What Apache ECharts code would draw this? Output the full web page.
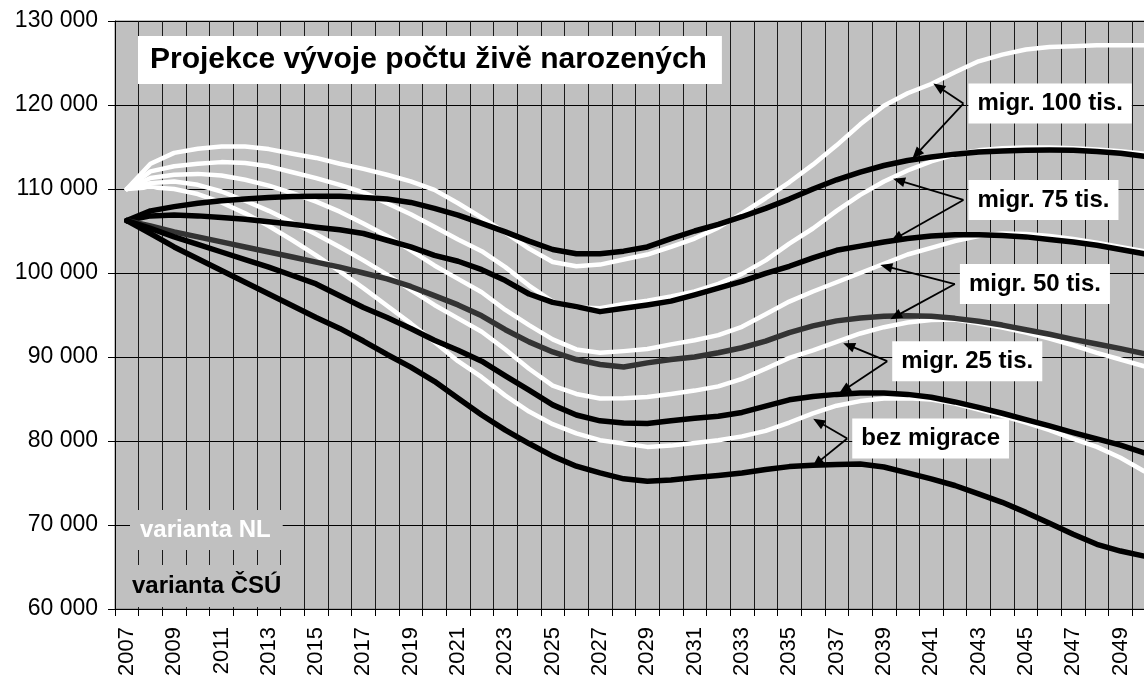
<!DOCTYPE html>
<html>
<head>
<meta charset="utf-8">
<script src="https://cdn.jsdelivr.net/npm/echarts@6/dist/echarts.min.js"></script>
<style>
html,body{margin:0;padding:0;background:#fff;overflow:hidden;width:1144px;height:679px;}
#chart{width:1156px;height:679px;}
</style>
</head>
<body>
<div id="chart"></div>
<script>
const years = ['2007','2008','2009','2010','2011','2012','2013','2014','2015','2016','2017','2018','2019','2020','2021','2022','2023','2024','2025','2026','2027','2028','2029','2030','2031','2032','2033','2034','2035','2036','2037','2038','2039','2040','2041','2042','2043','2044','2045','2046','2047','2048','2049','2050'];

// varianta NL (white)
const nl100 = [110000,113000,114300,114800,115050,115050,114750,114200,113700,113000,112400,111700,110900,109900,108300,106600,104800,102900,101300,100800,101000,101600,102200,103100,104100,105400,107100,108900,110800,112900,115200,117700,119900,121400,122500,123900,125200,126000,126600,126900,127000,127100,127100,127100];
const nl75 = [110000,112100,112700,113000,113200,113100,112700,112000,111300,110500,109600,108300,107000,105500,104000,102600,100700,98500,96600,95900,95800,96300,96700,97200,97800,98700,99900,101500,103500,105300,107400,109300,110900,112200,113300,114100,114600,114850,114950,114950,114850,114700,114500,114200];
const nl50 = [110000,111300,111700,111800,111600,111100,110400,109500,108500,107300,105900,104400,102700,100900,99300,97700,95600,93800,92100,90900,90500,90700,90950,91500,92000,92600,93600,95100,96600,97800,98900,100000,101100,102200,103000,103800,104400,104700,104650,104400,104050,103600,103100,102600];
const nl25 = [110000,110700,110900,110500,109700,108600,107400,106000,104600,103100,101500,99800,98000,96200,94600,93000,90900,88600,86600,85600,85050,85100,85250,85600,86000,86500,87400,88600,89900,90800,91800,92800,93550,94100,94400,94450,94000,93500,92900,92200,91400,90500,89700,88900];
const nl0 = [110000,110200,110000,109400,108400,107100,105600,103900,102100,100200,98200,96100,94000,91800,89500,87600,85400,83500,82000,80900,80100,79700,79300,79450,79750,80100,80550,81200,82200,83300,84200,84750,85050,85100,84950,84450,83750,83000,82200,81300,80250,79300,78000,76400];

// varianta ČSÚ (black / dark grey)
const csu100 = [106240,107400,107900,108300,108600,108800,109000,109100,109150,109150,109000,108800,108400,107700,106900,105900,104900,103800,102800,102300,102300,102600,103100,104100,105000,105800,106700,107700,108800,110000,111100,112000,112800,113400,113800,114150,114400,114520,114600,114630,114600,114450,114250,113900];
const csu75 = [106240,106800,106900,106800,106600,106400,106100,105800,105450,105150,104700,103900,103100,102100,101400,100400,99100,97500,96500,96000,95400,95800,96200,96650,97400,98200,99000,99950,100800,101800,102700,103200,103700,104100,104400,104550,104550,104450,104300,104000,103700,103300,102800,102300];
const csu50 = [106240,105600,104900,104300,103700,103100,102500,101900,101300,100700,100000,99300,98400,97300,96200,94900,93250,91800,90600,89700,89100,88800,89300,89700,90000,90500,91100,91900,92900,93700,94300,94650,94850,94900,94850,94600,94250,93800,93250,92700,92100,91550,91000,90400];
const csu25 = [106240,105300,104300,103400,102500,101600,100700,99700,98700,97300,95900,94700,93400,92000,90800,89500,87750,86050,84300,83100,82400,82150,82080,82400,82700,82950,83400,84150,84900,85300,85550,85700,85700,85550,85200,84650,84000,83300,82550,81800,81000,80250,79500,78600];
const csu0 = [106240,104700,103100,101700,100300,98900,97500,96100,94700,93400,91900,90300,88800,87100,85100,83100,81300,79700,78200,77000,76200,75500,75200,75350,75650,75900,76200,76600,76950,77100,77200,77250,76900,76200,75500,74700,73700,72700,71500,70200,68900,67700,66900,66300];

const titleText = 'Projekce vývoje počtu živě narozených';
const legendNL = 'varianta NL';
const legendCSU = 'varianta ČSÚ';

// annotation labels: arrow origin and arrow tips given in (year, value)
const annotations = [
  {label:'migr. 100 tis.', from:[2042.36,120170], tips:[[2041.09,122560],[2040.2,113610]]},
  {label:'migr. 75 tis.',  from:[2042.36,108700], tips:[[2039.39,111210],[2039.3,103810]]},
  {label:'migr. 50 tis.',  from:[2042.0,98690],   tips:[[2038.85,100950],[2039.27,94500]]},
  {label:'migr. 25 tis.',  from:[2039.14,89500],  tips:[[2037.28,91650],[2037.11,85680]]},
  {label:'bez migrace',    from:[2037.45,80300],  tips:[[2036.01,82640],[2035.97,76910]]}
];

const FONT = '"Liberation Sans", Arial, Helvetica, sans-serif';
const chart = echarts.init(document.getElementById('chart'), null, {renderer:'canvas'});

function lineSeries(name, data, color, width) {
  return {
    name: name, type: 'line', data: data, symbol: 'none', smooth: false,
    lineStyle: {color: color, width: width, cap: 'round', join: 'round'},
    emphasis: {disabled: true}, silent: true, animation: false
  };
}

const option = {
  animation: false,
  backgroundColor: '#ffffff',
  textStyle: {fontFamily: FONT},
  grid: {left: 115, top: 21, right: 0, bottom: 70, show: true, outerBoundsMode: 'none',
         backgroundColor: '#c0c0c0', borderColor: '#808080', borderWidth: 1},
  xAxis: {
    type: 'category', data: years, boundaryGap: true,
    axisLine: {show: true, onZero: false, lineStyle: {color: '#000', width: 1}},
    axisTick: {show: true, interval: 0, length: 7, lineStyle: {color: '#000'}},
    axisLabel: {interval: 1, rotate: 90, fontSize: 22, color: '#000', margin: 18, fontFamily: FONT},
    splitLine: {show: true, interval: 0, lineStyle: {color: '#1a1a1a', width: 1}}
  },
  yAxis: {
    type: 'value', min: 60000, max: 130000, interval: 10000,
    axisLine: {show: true, lineStyle: {color: '#000', width: 1}},
    axisTick: {show: true, length: 7, lineStyle: {color: '#000'}},
    axisLabel: {fontSize: 23, color: '#000', margin: 17, fontFamily: FONT,
      formatter: v => String(v).replace(/\B(?=(\d{3})+(?!\d))/g, ' ')},
    splitLine: {show: true, lineStyle: {color: '#000', width: 1}}
  },
  series: [
    lineSeries('NL 100', nl100, '#ffffff', 4.5),
    lineSeries('NL 75', nl75, '#ffffff', 4.5),
    lineSeries('NL 50', nl50, '#ffffff', 4.5),
    lineSeries('NL 25', nl25, '#ffffff', 4.5),
    lineSeries('NL 0', nl0, '#ffffff', 4.5),
    lineSeries('ČSÚ 100', csu100, '#000000', 5.5),
    lineSeries('ČSÚ 75', csu75, '#000000', 5.5),
    lineSeries('ČSÚ 50', csu50, '#333333', 5.5),
    lineSeries('ČSÚ 25', csu25, '#000000', 5.5),
    lineSeries('ČSÚ 0', csu0, '#000000', 5.5)
  ]
};
chart.setOption(option);

// build annotations anchored to data coordinates
const p0 = chart.convertToPixel({gridIndex: 0}, [0, 60000]);
const p1 = chart.convertToPixel({gridIndex: 0}, [1, 60000]);
const step = p1[0] - p0[0];
const xOf = yr => p0[0] + (yr - 2007) * step;
const yOf = v => chart.convertToPixel({yAxisIndex: 0}, v);

const graphics = [];
graphics.push({
  type: 'text', z: 100, x: 138, y: 60,
  style: {text: titleText, font: 'bold 30px ' + FONT, fill: '#000', verticalAlign: 'middle',
          backgroundColor: '#fff', padding: [9, 15, 9, 12], lineHeight: 30}
});
graphics.push({
  type: 'text', z: 100, x: 130, y: 530,
  style: {text: legendNL, font: 'bold 24px ' + FONT, fill: '#fff', verticalAlign: 'middle',
          backgroundColor: '#c0c0c0', padding: [8, 12, 8, 10], lineHeight: 24}
});
graphics.push({
  type: 'text', z: 100, x: 130, y: 586,
  style: {text: legendCSU, font: 'bold 24px ' + FONT, fill: '#000', verticalAlign: 'middle',
          backgroundColor: '#c0c0c0', padding: [9, 6, 9, 2], lineHeight: 24}
});

function arrow(x1, y1, x2, y2) {
  const dx = x2 - x1, dy = y2 - y1, L = Math.hypot(dx, dy);
  const ux = dx / L, uy = dy / L, nx = -uy, ny = ux;
  const hl = 12, hw = 5;
  const bx = x2 - ux * hl, by = y2 - uy * hl;
  return [
    {type: 'line', z: 110, shape: {x1: x1, y1: y1, x2: bx + ux * 2, y2: by + uy * 2},
     style: {stroke: '#000', lineWidth: 1.8}},
    {type: 'polygon', z: 110, shape: {points: [[x2, y2], [bx + nx * hw, by + ny * hw], [bx - nx * hw, by - ny * hw]]},
     style: {fill: '#000'}}
  ];
}

annotations.forEach(a => {
  const ox = xOf(a.from[0]), oy = yOf(a.from[1]);
  a.tips.forEach(t => { arrow(ox, oy, xOf(t[0]), yOf(t[1])).forEach(g => graphics.push(g)); });
  graphics.push({
    type: 'text', z: 105, x: ox + 5, y: oy,
    style: {text: a.label, font: 'bold 24px ' + FONT, fill: '#000', verticalAlign: 'middle',
            backgroundColor: '#fff', padding: [8, 9, 8, 9], lineHeight: 24}
  });
});

chart.setOption({graphic: graphics});
</script>
</body>
</html>
